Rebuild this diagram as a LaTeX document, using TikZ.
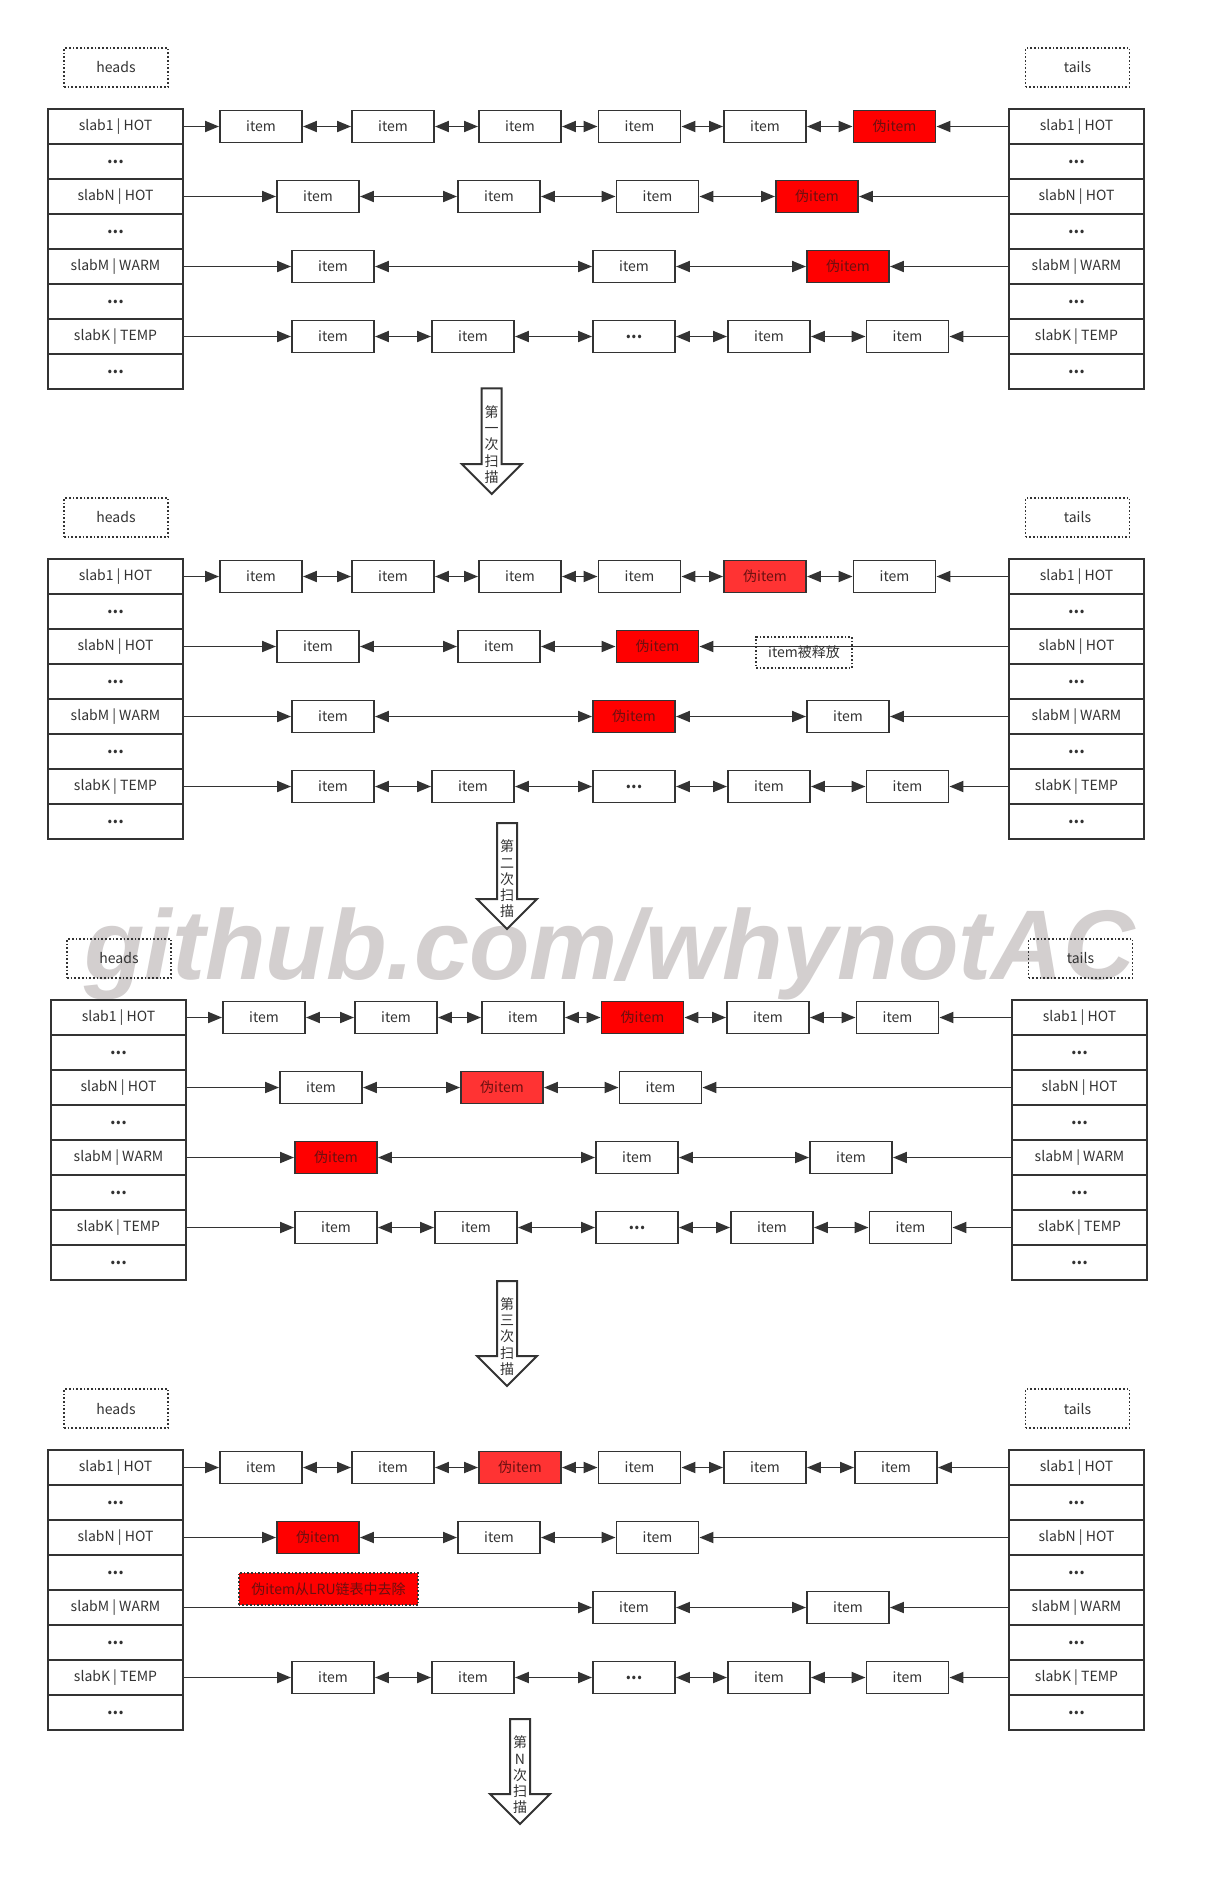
\documentclass[tikz,border=0pt]{standalone}
\usepackage{fontspec}
\setmainfont{Noto Sans CJK SC}
\newfontfamily\wmfont{Liberation Sans}
\usetikzlibrary{arrows.meta}
\definecolor{ln}{HTML}{333333}
\definecolor{redA}{HTML}{FF0000}
\definecolor{redB}{HTML}{FF3333}
\definecolor{redtxt}{HTML}{6A1010}
\definecolor{wmc}{HTML}{D3CFCF}
\newcommand\ddd{{\fontsize{8}{8}\selectfont\bfseries ...}}
\tikzset{
 every node/.style={font=\fontsize{7}{8}\selectfont, text=ln},
 cell/.style={draw=ln, line width=1pt, minimum width=67.5pt, minimum height=17.5pt, inner sep=0pt},
 itm/.style={draw=ln, line width=0.95pt, fill=white, minimum width=41pt, minimum height=16pt, inner sep=0pt},
 fakeA/.style={itm, fill=redA, text=redtxt},
 fakeB/.style={itm, fill=redB, text=redtxt},
 dotbox/.style={draw=ln, densely dotted, line width=0.85pt, minimum width=52pt, minimum height=19.5pt, inner sep=0pt},
 lk/.style={draw=ln, line width=0.95pt, -{Triangle[length=7pt,width=5.5pt]}},
 dlk/.style={draw=ln, line width=0.95pt, {Triangle[length=7pt,width=5.5pt]}-{Triangle[length=7pt,width=5.5pt]}},
 barrow/.style={draw=ln, line width=1pt, fill=white, line join=miter},
 vtext/.style={align=center, inner sep=0pt, font=\fontsize{7}{8.15}\selectfont},
}
\newcommand\mktables[1]{%
 \node[dotbox] (#1heads) at (116,67.5) {heads};
 \node[dotbox] (#1tails) at (1077.5,67.5) {tails};
 \foreach \i/\t in {1/slab1 | HOT,2/\ddd,3/slabN | HOT,4/\ddd,5/slabM | WARM,6/\ddd,7/slabK | TEMP,8/\ddd}{%
  \node[cell] (#1L\i) at (115.5,{91.5+35*\i}) {\t};
  \node[cell] (#1R\i) at (1076.5,{91.5+35*\i}) {\t};
 }%
}
\newcommand\rowfour[1]{%
 \node[itm] (#1d1) at (333,336.5) {item};
 \node[itm] (#1d2) at (473,336.5) {item};
 \node[itm] (#1d3) at (634,336.5) {\ddd};
 \node[itm] (#1d4) at (769,336.5) {item};
 \node[itm] (#1d5) at (907.5,336.5) {item};
 \draw[lk] (#1L7) -- (#1d1);
 \draw[dlk] (#1d1) -- (#1d2);
 \draw[dlk] (#1d2) -- (#1d3);
 \draw[dlk] (#1d3) -- (#1d4);
 \draw[dlk] (#1d4) -- (#1d5);
 \draw[lk] (#1R7) -- (#1d5);
}
\newcommand\barr[3]{%
 \draw[barrow] ({#1-10},#2) -- ({#1+10},#2) -- ({#1+10},#3) -- ({#1+30},#3) -- (#1,{#3+30}) -- ({#1-30},#3) -- ({#1-10},#3) -- cycle;
}
\begin{document}
\begin{tikzpicture}[x=0.5pt,y=-0.5pt]
\useasboundingbox (0,0) rectangle (1208,1886);
\fill[white] (0,0) rectangle (1208,1886);
% watermark
\node[font={\wmfont\fontsize{49.5}{50}\selectfont\bfseries\itshape}, text=wmc, anchor=base west, inner sep=0pt] (wm) at (84,979) {github.com/whynotAC};

% ---------- panel 1 ----------
\begin{scope}
\mktables{a}
\node[itm] (a11) at (261,126.5) {item};
\node[itm] (a12) at (393,126.5) {item};
\node[itm] (a13) at (520,126.5) {item};
\node[itm] (a14) at (639.5,126.5) {item};
\node[itm] (a15) at (765,126.5) {item};
\node[fakeA] (a16) at (894.5,126.5) {伪item};
\draw[lk] (aL1) -- (a11);
\draw[dlk] (a11) -- (a12);
\draw[dlk] (a12) -- (a13);
\draw[dlk] (a13) -- (a14);
\draw[dlk] (a14) -- (a15);
\draw[dlk] (a15) -- (a16);
\draw[lk] (aR1) -- (a16);
\node[itm] (a21) at (318,196.5) {item};
\node[itm] (a22) at (499,196.5) {item};
\node[itm] (a23) at (657.5,196.5) {item};
\node[fakeA] (a24) at (817,196.5) {伪item};
\draw[lk] (aL3) -- (a21);
\draw[dlk] (a21) -- (a22);
\draw[dlk] (a22) -- (a23);
\draw[dlk] (a23) -- (a24);
\draw[lk] (aR3) -- (a24);
\node[itm] (a31) at (333,266.5) {item};
\node[itm] (a32) at (634,266.5) {item};
\node[fakeA] (a33) at (848,266.5) {伪item};
\draw[lk] (aL5) -- (a31);
\draw[dlk] (a31) -- (a32);
\draw[dlk] (a32) -- (a33);
\draw[lk] (aR5) -- (a33);
\rowfour{a}
\end{scope}

% ---------- panel 2 ----------
\begin{scope}[shift={(0,450)}]
\mktables{b}
\node[itm] (b11) at (261,126.5) {item};
\node[itm] (b12) at (393,126.5) {item};
\node[itm] (b13) at (520,126.5) {item};
\node[itm] (b14) at (639.5,126.5) {item};
\node[fakeB] (b15) at (765,126.5) {伪item};
\node[itm] (b16) at (894.5,126.5) {item};
\draw[lk] (bL1) -- (b11);
\draw[dlk] (b11) -- (b12);
\draw[dlk] (b12) -- (b13);
\draw[dlk] (b13) -- (b14);
\draw[dlk] (b14) -- (b15);
\draw[dlk] (b15) -- (b16);
\draw[lk] (bR1) -- (b16);
\node[itm] (b21) at (318,196.5) {item};
\node[itm] (b22) at (499,196.5) {item};
\node[fakeA] (b23) at (657.5,196.5) {伪item};
\draw[lk] (bL3) -- (b21);
\draw[dlk] (b21) -- (b22);
\draw[dlk] (b22) -- (b23);
\draw[lk] (bR3) -- (b23);
\node[dotbox, minimum width=48pt, minimum height=15.8pt] (bfree) at (804,202.5) {item被释放};
\node[itm] (b31) at (333,266.5) {item};
\node[fakeA] (b32) at (634,266.5) {伪item};
\node[itm] (b33) at (848,266.5) {item};
\draw[lk] (bL5) -- (b31);
\draw[dlk] (b31) -- (b32);
\draw[dlk] (b32) -- (b33);
\draw[lk] (bR5) -- (b33);
\rowfour{b}
\end{scope}

% ---------- panel 3 ----------
\begin{scope}[shift={(3,891)}]
\mktables{c}
\node[itm] (c11) at (261,126.5) {item};
\node[itm] (c12) at (393,126.5) {item};
\node[itm] (c13) at (520,126.5) {item};
\node[fakeA] (c14) at (639.5,126.5) {伪item};
\node[itm] (c15) at (765,126.5) {item};
\node[itm] (c16) at (894.5,126.5) {item};
\draw[lk] (cL1) -- (c11);
\draw[dlk] (c11) -- (c12);
\draw[dlk] (c12) -- (c13);
\draw[dlk] (c13) -- (c14);
\draw[dlk] (c14) -- (c15);
\draw[dlk] (c15) -- (c16);
\draw[lk] (cR1) -- (c16);
\node[itm] (c21) at (318,196.5) {item};
\node[fakeB] (c22) at (499,196.5) {伪item};
\node[itm] (c23) at (657.5,196.5) {item};
\draw[lk] (cL3) -- (c21);
\draw[dlk] (c21) -- (c22);
\draw[dlk] (c22) -- (c23);
\draw[lk] (cR3) -- (c23);
\node[fakeA] (c31) at (333,266.5) {伪item};
\node[itm] (c32) at (634,266.5) {item};
\node[itm] (c33) at (848,266.5) {item};
\draw[lk] (cL5) -- (c31);
\draw[dlk] (c31) -- (c32);
\draw[dlk] (c32) -- (c33);
\draw[lk] (cR5) -- (c33);
\rowfour{c}
\end{scope}

% ---------- panel 4 ----------
\begin{scope}[shift={(0,1341)}]
\mktables{d}
\node[itm] (d11) at (261,126.5) {item};
\node[itm] (d12) at (393,126.5) {item};
\node[fakeB] (d13) at (520,126.5) {伪item};
\node[itm] (d14) at (639.5,126.5) {item};
\node[itm] (d15) at (765,126.5) {item};
\node[itm] (d16) at (896,126.5) {item};
\draw[lk] (dL1) -- (d11);
\draw[dlk] (d11) -- (d12);
\draw[dlk] (d12) -- (d13);
\draw[dlk] (d13) -- (d14);
\draw[dlk] (d14) -- (d15);
\draw[dlk] (d15) -- (d16);
\draw[lk] (dR1) -- (d16);
\node[fakeA] (d21) at (318,196.5) {伪item};
\node[itm] (d22) at (499,196.5) {item};
\node[itm] (d23) at (657.5,196.5) {item};
\draw[lk] (dL3) -- (d21);
\draw[dlk] (d21) -- (d22);
\draw[dlk] (d22) -- (d23);
\draw[lk] (dR3) -- (d23);
\node[itm] (d31) at (634,266.5) {item};
\node[itm] (d32) at (848,266.5) {item};
\draw[lk] (dL5) -- (d31);
\draw[dlk] (d31) -- (d32);
\draw[lk] (dR5) -- (d32);
\node[dotbox, fill=redA, text=redtxt, minimum width=89.75pt, minimum height=16.15pt] (drm) at (328.5,247.9) {伪item从LRU链表中去除};
\rowfour{d}
\end{scope}

% ---------- block arrows ----------
\barr{491.7}{388.3}{464}
\node[vtext] (s1) at (491.7,444.5) {第\\一\\次\\扫\\描};
\barr{507}{823}{899}
\node[vtext] (s2) at (507,879) {第\\二\\次\\扫\\描};
\barr{507}{1281}{1356}
\node[vtext] (s3) at (507,1336.5) {第\\三\\次\\扫\\描};
\barr{520}{1719}{1794}
\node[vtext] (s4) at (520,1775) {第\\N\\次\\扫\\描};
\end{tikzpicture}
\end{document}
